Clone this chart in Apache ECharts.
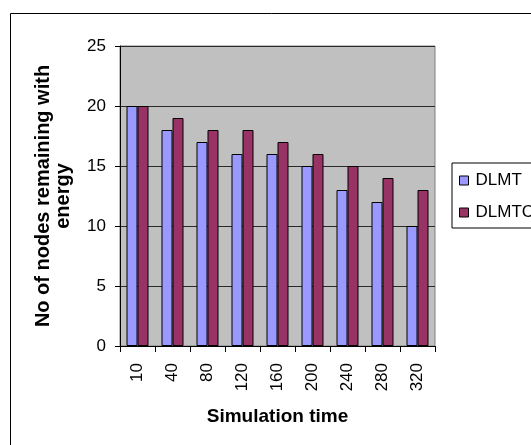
<!DOCTYPE html>
<html>
<head>
<meta charset="utf-8">
<script src="https://cdn.jsdelivr.net/npm/echarts@6/dist/echarts.min.js"></script>
<style>
html,body{margin:0;padding:0;background:#fff;}
#chart{width:531px;height:445px;}
</style>
</head>
<body>
<div id="chart"></div>
<script>
var categories = ['10','40','80','120','160','200','240','280','320'];
var dlmt = [20,18,17,16,16,15,13,12,10];
var dlmtc = [20,19,18,18,17,16,15,14,13];
var seriesNames = ['DLMT','DLMTC'];
var yTitle = 'No of nodes remaining with\nenergy';
var xTitle = 'Simulation time';

var FONT = '"Liberation Sans", Arial, sans-serif';
var chart = echarts.init(document.getElementById('chart'), null, {renderer:'canvas'});
chart.setOption({
  backgroundColor:'#ffffff',
  animation:false,
  textStyle:{fontFamily:FONT, color:'#000'},
  graphic:[{
    type:'rect', z:-1, silent:true,
    shape:{x:10.5, y:13.5, width:700, height:600},
    style:{fill:'none', stroke:'#000', lineWidth:1}
  }],
  legend:{
    orient:'vertical', left:452, top:163,
    padding:[9,40,7,7],
    itemWidth:9, itemHeight:9, itemGap:15,
    borderColor:'#000', borderWidth:1,
    icon:'rect',
    textStyle:{fontSize:17, fontFamily:FONT, color:'#000', padding:[0,0,0,2]},
    itemStyle:{borderColor:'#000', borderWidth:1},
    data:seriesNames
  },
  grid:{left:120, top:46, right:96, bottom:99, show:true, backgroundColor:'#C0C0C0', borderColor:'#808080', borderWidth:1},
  xAxis:{
    type:'category', data:categories,
    name:xTitle, nameLocation:'middle', nameGap:61,
    nameTextStyle:{fontSize:19, fontWeight:'bold', fontFamily:FONT, color:'#000'},
    axisLine:{lineStyle:{color:'#000', width:1}},
    axisTick:{show:true, length:6, lineStyle:{color:'#000'}},
    axisLabel:{rotate:90, margin:17, fontSize:17, fontFamily:FONT, color:'#000'}
  },
  yAxis:{
    type:'value', min:0, max:25, interval:5,
    name:yTitle, nameLocation:'middle', nameRotate:90, nameGap:47,
    nameTextStyle:{fontSize:20, fontWeight:'bold', fontFamily:FONT, color:'#000', lineHeight:20},
    axisLine:{show:true, lineStyle:{color:'#000', width:1}},
    axisTick:{show:true, length:5, lineStyle:{color:'#000'}},
    axisLabel:{margin:14, fontSize:17, fontFamily:FONT, color:'#000'},
    splitLine:{show:true, lineStyle:{color:'#2a2a2a', width:1}}
  },
  series:[
    {name:seriesNames[0], type:'bar', data:dlmt, barWidth:11, barGap:'0%',
     itemStyle:{color:'#9999FF', borderColor:'#000', borderWidth:1}},
    {name:seriesNames[1], type:'bar', data:dlmtc, barWidth:11, barGap:'0%',
     itemStyle:{color:'#993366', borderColor:'#000', borderWidth:1}}
  ]
});
</script>
</body>
</html>
